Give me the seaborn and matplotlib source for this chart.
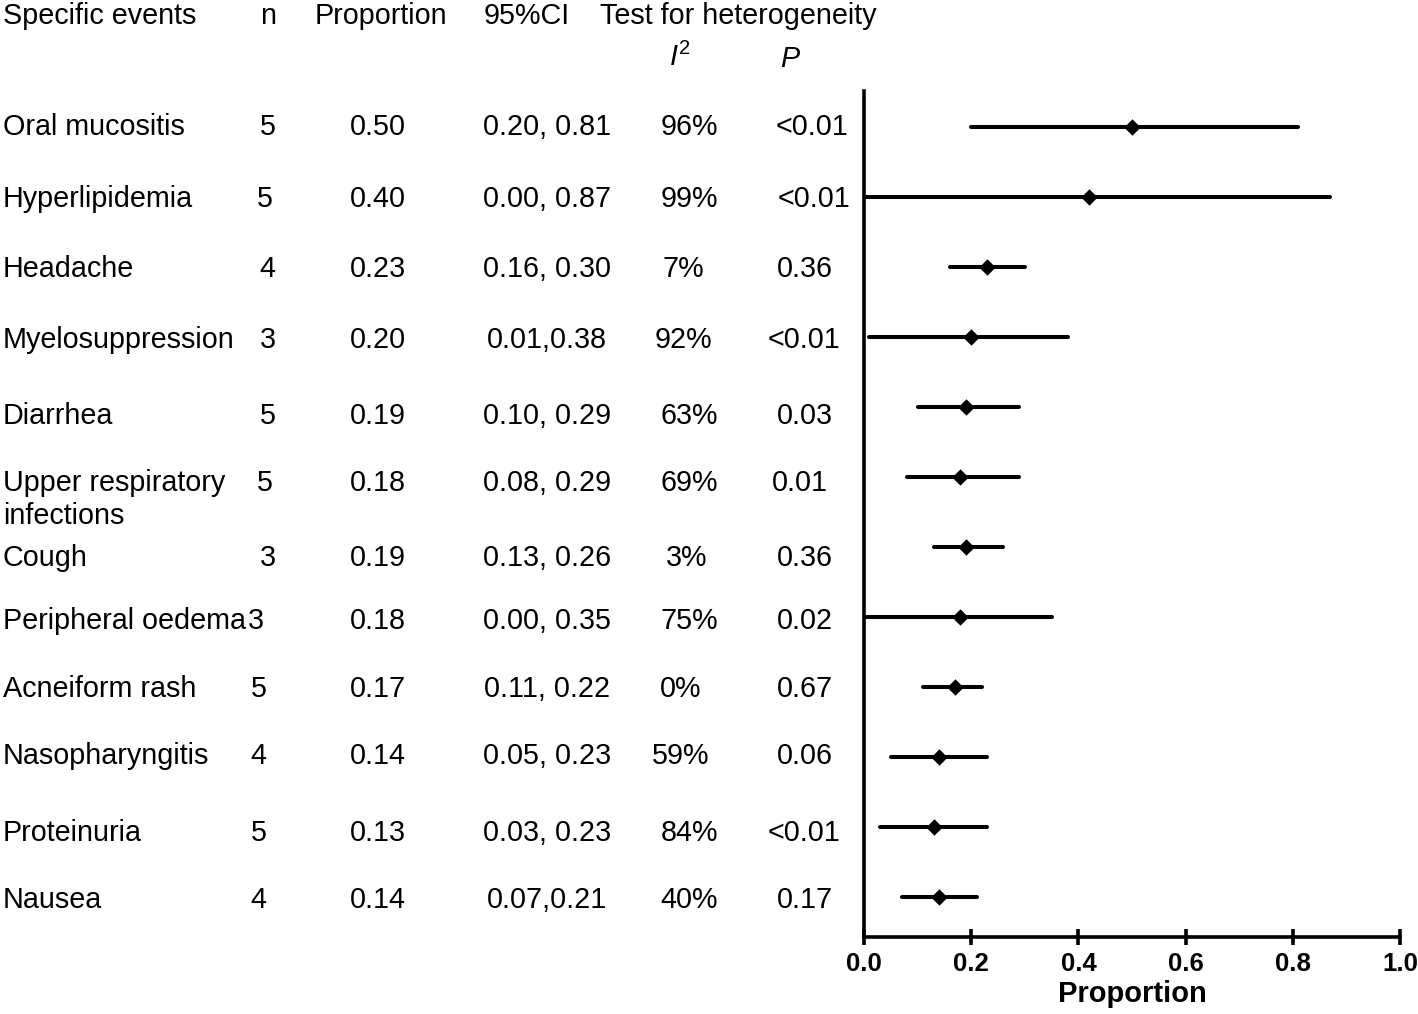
import matplotlib
matplotlib.use("Agg")
import matplotlib.pyplot as plt
import seaborn as sns
import pandas as pd

# ---------------- data ----------------
events = ["Oral mucositis", "Hyperlipidemia", "Headache", "Myelosuppression", "Diarrhea",
          "Upper respiratory\ninfections", "Cough", "Peripheral oedema", "Acneiform rash",
          "Nasopharyngitis", "Proteinuria", "Nausea"]
n_studies = [5, 5, 4, 3, 5, 5, 3, 3, 5, 4, 5, 4]
prop_text = ["0.50", "0.40", "0.23", "0.20", "0.19", "0.18", "0.19", "0.18", "0.17", "0.14", "0.13", "0.14"]
ci_text = ["0.20, 0.81", "0.00, 0.87", "0.16, 0.30", "0.01,0.38", "0.10, 0.29", "0.08, 0.29",
           "0.13, 0.26", "0.00, 0.35", "0.11, 0.22", "0.05, 0.23", "0.03, 0.23", "0.07,0.21"]
i2_text = ["96%", "99%", "7%", "92%", "63%", "69%", "3%", "75%", "0%", "59%", "84%", "40%"]
p_text = ["<0.01", "<0.01", "0.36", "<0.01", "0.03", "0.01", "0.36", "0.02", "0.67", "0.06", "<0.01", "0.17"]
# plotted estimates and CI bounds
estimate = [0.50, 0.42, 0.23, 0.20, 0.19, 0.18, 0.19, 0.18, 0.17, 0.14, 0.13, 0.14]
ci_low = [0.20, 0.00, 0.16, 0.01, 0.10, 0.08, 0.13, 0.00, 0.11, 0.05, 0.03, 0.07]
ci_high = [0.81, 0.87, 0.30, 0.38, 0.29, 0.29, 0.26, 0.35, 0.22, 0.23, 0.23, 0.21]
x_ticks = [0.0, 0.2, 0.4, 0.6, 0.8, 1.0]

df = pd.DataFrame({"event": events, "est": estimate, "lo": ci_low, "hi": ci_high,
                   "row": list(range(len(events)))})

# ---------------- layout ----------------
W, H = 1418, 1014
sns.set_theme(style="white")
plt.rcParams["font.family"] = ["Liberation Sans", "DejaVu Sans"]
plt.rcParams["mathtext.fontset"] = "custom"
plt.rcParams["mathtext.rm"] = "Liberation Sans"
plt.rcParams["mathtext.it"] = "Liberation Sans:italic"
plt.rcParams["text.color"] = "black"
plt.rcParams["axes.labelcolor"] = "black"
plt.rcParams["xtick.color"] = "black"

fig = plt.figure(figsize=(W / 100, H / 100), dpi=100)
ax_left, ax_right, ax_top, ax_bottom = 864, 1400, 91, 937
ax = fig.add_axes([ax_left / W, 1 - ax_bottom / H, (ax_right - ax_left) / W, (ax_bottom - ax_top) / H])

ax.hlines(df["row"], df["lo"], df["hi"], color="black", linewidth=2.9, capstyle="round", zorder=2)
sns.scatterplot(data=df, x="est", y="row", marker="D", s=70, color="black",
                edgecolor="black", linewidth=0, ax=ax, zorder=3, legend=False)

ax.set_xlim(0, 1.0)
ax.set_ylim(11.57, -0.51)
ax.set_xticks(x_ticks)
ax.set_xticklabels([f"{t:.1f}" for t in x_ticks], fontsize=18.5, fontweight="bold", color="black")
ax.set_yticks([])
ax.set_ylabel("")
ax.set_xlabel("Proportion", fontsize=21, fontweight="bold", labelpad=3, color="black")
for s in ["top", "right"]:
    ax.spines[s].set_visible(False)
for s in ["left", "bottom"]:
    ax.spines[s].set_visible(True)
    ax.spines[s].set_color("black")
    ax.spines[s].set_linewidth(2.6)
ax.tick_params(axis="x", direction="inout", length=12, width=2.6, color="black",
               labelcolor="black", pad=5, bottom=True)
ax.set_facecolor("white")

fs = 20.7

def ftext(xp, yp, s, ha="left", **kw):
    fig.text(xp / W, 1 - yp / H, s, ha=ha, va="center", fontsize=fs, color="black", **kw)

# headers
ftext(3, 16, "Specific events")
ftext(268, 16, "n", ha="center")
ftext(381, 16, "Proportion", ha="center")
ftext(527, 16, "95%CI", ha="center")
ftext(600, 16, "Test for heterogeneity")
ftext(680, 57, r"$I^{\mathrm{2}}$", ha="center")
ftext(790, 59, "P", ha="center", style="italic")

# row text positions (pixel layout)
row_y = [127, 199, 269, 340, 416, 483, 558, 621, 689, 756, 833, 900]
n_x = [268, 265, 267, 268, 268, 265, 268, 256, 259, 258, 259, 258]
i2_x = [689, 689, 683, 683, 689, 689, 687, 689, 681, 681, 689, 689]
p_x = [812, 814, 805, 804, 805, 800, 805, 805, 805, 805, 804, 805]

for i, name in enumerate(events):
    y = row_y[i]
    lines = name.split("\n")
    for k, ln in enumerate(lines):
        ftext(3, y + 33 * k, ln)
    ftext(n_x[i], y, str(n_studies[i]), ha="center")
    ftext(378, y, prop_text[i], ha="center")
    ftext(547, y, ci_text[i], ha="center")
    ftext(i2_x[i], y, i2_text[i], ha="center")
    ftext(p_x[i], y, p_text[i], ha="center")

fig.savefig("out.png", dpi=100, facecolor="white")
